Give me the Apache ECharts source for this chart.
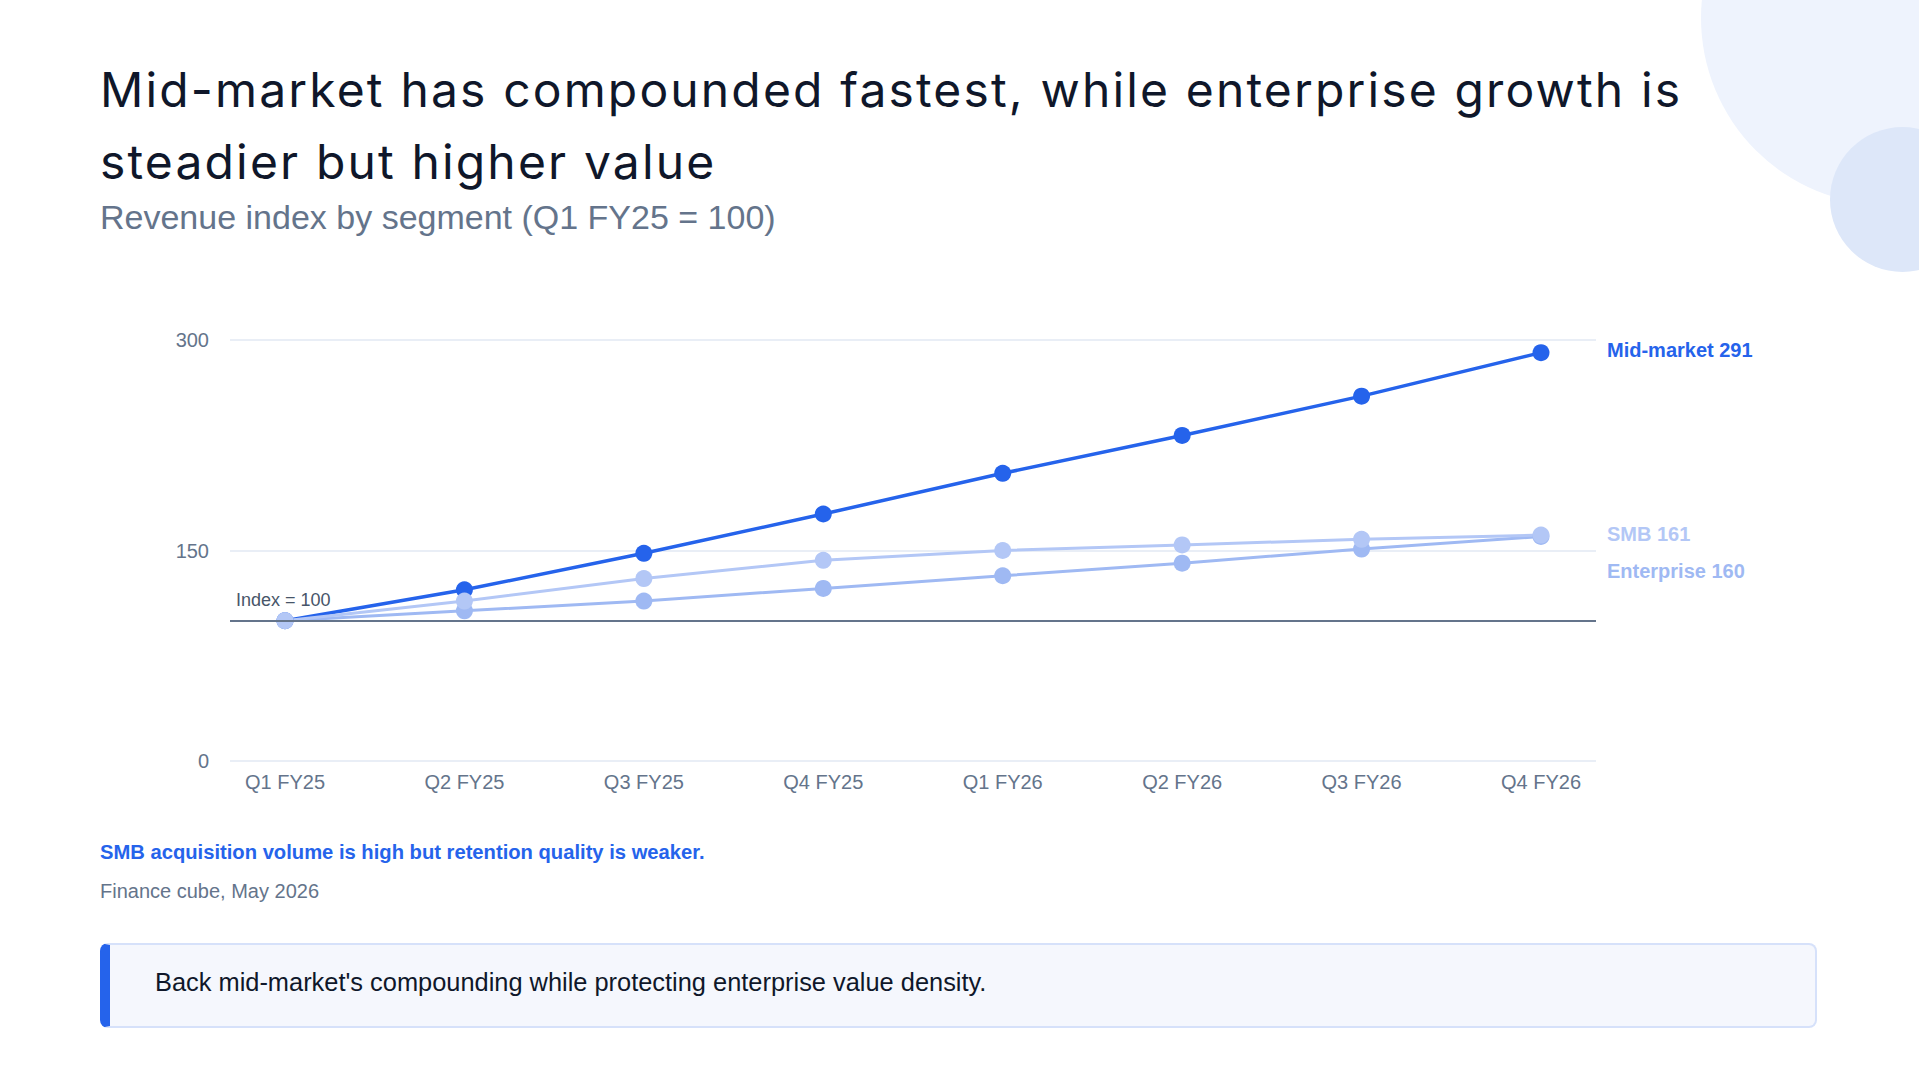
<!DOCTYPE html>
<html>
<head>
<meta charset="utf-8">
<script src="https://cdn.jsdelivr.net/npm/echarts@6/dist/echarts.min.js"></script>
<style>
  html, body { margin: 0; padding: 0; background: #ffffff; }
  body { width: 1919px; height: 1080px; position: relative; overflow: hidden; font-family: "Liberation Sans", Arial, sans-serif; }
  .circle { position: absolute; border-radius: 50%; }
  #c1 { left: 1701px; top: -169px; width: 374px; height: 374px; background: #eef3fd; }
  #c2 { left: 1830px; top: 127px; width: 145px; height: 145px; background: #dde7f9; }
  #chart { position: absolute; left: 0; top: 0; width: 1919px; height: 1080px; }
  #title { position: absolute; left: 100px; top: 54px; font-family: Inter, sans-serif; font-weight: 400; font-size: 48px; line-height: 72px; letter-spacing: 2.15px; color: #0f172a; white-space: nowrap; }
  #subtitle { position: absolute; left: 100px; top: 197px; font-size: 34px; line-height: 40px; color: #64748b; white-space: nowrap; }
  #note { position: absolute; left: 100px; top: 840px; font-size: 20.2px; line-height: 24px; font-weight: bold; color: #2563eb; white-space: nowrap; }
  #source { position: absolute; left: 100px; top: 879px; font-size: 20px; line-height: 24px; color: #64748b; white-space: nowrap; }
  #callout { position: absolute; left: 100px; top: 943px; width: 1717px; height: 85px; box-sizing: border-box; background: #f5f7fd; border: 2px solid #d6e1fa; border-left: 10px solid #2563eb; border-radius: 8px; padding-left: 45px; display: flex; align-items: center; font-size: 25.4px; color: #0f172a; }
  #callout span { position: relative; top: -3px; }
</style>
</head>
<body>
<div class="circle" id="c1"></div>
<div class="circle" id="c2"></div>
<div id="chart"></div>
<div id="title">Mid-market has compounded fastest, while enterprise growth is<br>steadier but higher value</div>
<div id="subtitle">Revenue index by segment (Q1 FY25 = 100)</div>
<div id="note">SMB acquisition volume is high but retention quality is weaker.</div>
<div id="source">Finance cube, May 2026</div>
<div id="callout"><span>Back mid-market's compounding while protecting enterprise value density.</span></div>
<script>
const categories = ['Q1 FY25', 'Q2 FY25', 'Q3 FY25', 'Q4 FY25', 'Q1 FY26', 'Q2 FY26', 'Q3 FY26', 'Q4 FY26'];
const midMarket = [100, 122, 148, 176, 205, 232, 260, 291];
const smb = [100, 114, 130, 143, 150, 154, 158, 161];
const enterprise = [100, 107, 114, 123, 132, 141, 151, 160];
const yMin = 0;
const yMax = 300;
const yInterval = 150;
const indexBase = 100;
const indexLabel = 'Index = 100';

const FONT = '"Liberation Sans", Arial, sans-serif';
const COLORS = { mid: '#2563eb', smb: '#b3c7f6', ent: '#9fb9f3' };

function lineSeries(name, data, color, width, labelOffset) {
  return {
    name: name,
    type: 'line',
    xAxisIndex: 1,
    yAxisIndex: 1,
    data: data,
    symbol: 'circle',
    symbolSize: 17,
    showSymbol: true,
    lineStyle: { color: color, width: width },
    itemStyle: { color: color },
    emphasis: { disabled: true },
    endLabel: {
      show: true,
      formatter: p => p.seriesName + ' ' + p.value,
      distance: 66,
      offset: labelOffset,
      color: color,
      fontFamily: FONT,
      fontWeight: 'bold',
      fontSize: 20
    }
  };
}

const chart = echarts.init(document.getElementById('chart'), null, { renderer: 'svg', width: 1919, height: 1080 });
chart.setOption({
  animation: false,
  backgroundColor: 'transparent',
  textStyle: { fontFamily: FONT },
  grid: [
    { left: 230, top: 340, width: 1366, height: 421, containLabel: false },
    { left: 285, top: 340, width: 1256, height: 421, containLabel: false }
  ],
  xAxis: [
    { gridIndex: 0, type: 'category', data: categories, boundaryGap: false, show: false },
    {
      gridIndex: 1, type: 'category', data: categories, boundaryGap: false,
      axisLine: { show: false }, axisTick: { show: false }, splitLine: { show: false },
      axisLabel: { fontSize: 20, color: '#64748b', margin: 11, fontFamily: FONT, interval: 0 }
    }
  ],
  yAxis: [
    {
      gridIndex: 0, type: 'value', min: yMin, max: yMax, interval: yInterval,
      axisLine: { show: false }, axisTick: { show: false },
      axisLabel: { fontSize: 20, color: '#64748b', margin: 21, fontFamily: FONT },
      splitLine: { lineStyle: { color: '#e2e8f3', width: 1.5 } }
    },
    { gridIndex: 1, type: 'value', min: yMin, max: yMax, interval: yInterval, show: false }
  ],
  series: [
    {
      name: 'baseline', type: 'line', xAxisIndex: 0, yAxisIndex: 0, data: [], z: 1,
      markLine: {
        silent: true, symbol: 'none', animation: false,
        lineStyle: { color: '#64748b', width: 2, type: 'solid' },
        label: { show: true, position: 'insideStartTop', formatter: indexLabel, fontSize: 18, color: '#475569', fontFamily: FONT, distance: [6, 12] },
        data: [{ yAxis: indexBase }]
      }
    },
    lineSeries('Mid-market', midMarket, COLORS.mid, 3.5, [0, -3]),
    lineSeries('Enterprise', enterprise, COLORS.ent, 3, [0, 34.5]),
    lineSeries('SMB', smb, COLORS.smb, 3, [0, -1.5])
  ]
});
</script>
</body>
</html>
